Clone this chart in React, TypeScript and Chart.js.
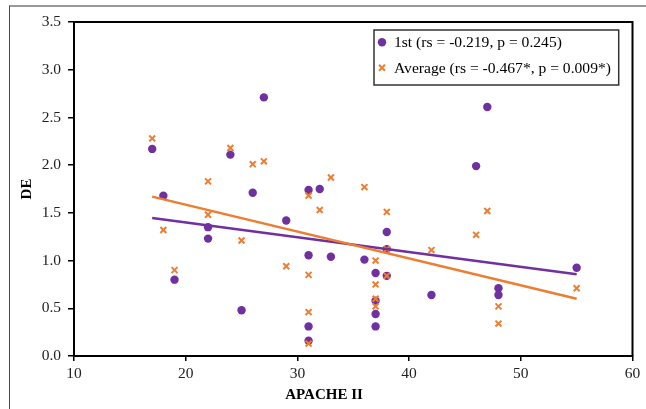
import React, { useEffect, useRef } from 'react';
import { Chart, registerables } from 'chart.js';
Chart.register(...registerables);

const apache = [17, 18, 19, 22, 22, 24, 25, 26, 27, 29, 31, 31, 31, 31, 32, 33, 36, 37, 37, 37, 37, 38, 38, 38, 42, 46, 47, 48, 48, 55];
const firstDE = [2.17, 1.68, 0.8, 1.35, 1.23, 2.11, 0.48, 1.71, 2.71, 1.42, 1.74, 1.055, 0.31, 0.16, 1.75, 1.04, 1.01, 0.87, 0.58, 0.44, 0.31, 1.3, 1.12, 0.84, 0.64, 1.99, 2.61, 0.71, 0.64, 0.925];
const averageDE = [2.28, 1.32, 0.9, 1.83, 1.48, 2.18, 1.21, 2.01, 2.04, 0.94, 1.68, 0.85, 0.46, 0.13, 1.53, 1.87, 1.77, 1.0, 0.75, 0.6, 0.52, 1.51, 1.12, 0.84, 1.11, 1.27, 1.52, 0.52, 0.34, 0.71];
const trendX = [17, 55];
const firstTrend = [1.446, 0.856];
const averageTrend = [1.67, 0.6];
const legendLabels = ['1st (rs = -0.219, p = 0.245)', 'Average (rs = -0.467*, p = 0.009*)'];
const xTitle = 'APACHE II';
const yTitle = 'DE';

const PURPLE = '#7030A0';
const ORANGE = '#ED7D31';
const FONT = '"Liberation Serif", "Times New Roman", serif';

export default function App() {
  const ref = useRef<HTMLCanvasElement | null>(null);
  useEffect(() => {
    document.body.style.margin = '0';
    const canvas = ref.current;
    if (!canvas) return;
    const framePlugin = {
      id: 'framePlugin',
      afterDraw(chart: any) {
        const { ctx, chartArea } = chart;
        ctx.save();
        ctx.strokeStyle = '#000';
        ctx.lineWidth = 2;
        ctx.beginPath();
        ctx.moveTo(chartArea.left, chartArea.top);
        ctx.lineTo(chartArea.right, chartArea.top);
        ctx.lineTo(chartArea.right, chartArea.bottom);
        ctx.stroke();
        // titles
        ctx.fillStyle = '#000';
        ctx.font = 'bold 15px ' + FONT;
        ctx.textAlign = 'center';
        ctx.textBaseline = 'middle';
        ctx.fillText(xTitle, 324, 395);
        ctx.save();
        ctx.translate(27, (chartArea.top + chartArea.bottom) / 2);
        ctx.rotate(-Math.PI / 2);
        ctx.fillText(yTitle, 0, 0);
        ctx.restore();
        // legend
        const lx = 374, ly = 30, lw = 244.7, lh = 55;
        ctx.fillStyle = '#fff';
        ctx.fillRect(lx, ly, lw, lh);
        ctx.strokeStyle = '#333';
        ctx.lineWidth = 1.5;
        ctx.strokeRect(lx, ly, lw, lh);
        const rows = [42.3, 67.7];
        ctx.font = '15.6px ' + FONT;
        ctx.textAlign = 'left';
        ctx.textBaseline = 'middle';
        // marker 1
        ctx.fillStyle = PURPLE;
        ctx.beginPath();
        ctx.arc(382, rows[0], 4.2, 0, Math.PI * 2);
        ctx.fill();
        // marker 2
        ctx.strokeStyle = ORANGE;
        ctx.lineWidth = 2;
        ctx.beginPath();
        const d = 3;
        ctx.moveTo(382 - d, rows[1] - d);
        ctx.lineTo(382 + d, rows[1] + d);
        ctx.moveTo(382 + d, rows[1] - d);
        ctx.lineTo(382 - d, rows[1] + d);
        ctx.stroke();
        ctx.fillStyle = '#000';
        ctx.fillText(legendLabels[0], 394, rows[0] + 1);
        ctx.fillText(legendLabels[1], 394, rows[1] + 1);
        ctx.restore();
      },
    };
    const chart = new Chart(canvas, {
      type: 'scatter',
      data: {
        datasets: [
          {
            label: legendLabels[0],
            data: apache.map((x, i) => ({ x, y: firstDE[i] })),
            pointStyle: 'circle',
            pointRadius: 4.2,
            backgroundColor: PURPLE,
            borderColor: PURPLE,
            borderWidth: 0,
            order: 4,
          },
          {
            label: legendLabels[1],
            data: apache.map((x, i) => ({ x, y: averageDE[i] })),
            pointStyle: 'crossRot',
            pointRadius: 4.2,
            backgroundColor: ORANGE,
            borderColor: ORANGE,
            borderWidth: 2,
            order: 3,
          },
          {
            label: 'trend1',
            data: trendX.map((x, i) => ({ x, y: firstTrend[i] })),
            showLine: true,
            pointRadius: 0,
            borderColor: PURPLE,
            borderWidth: 2.5,
            order: 2,
          },
          {
            label: 'trend2',
            data: trendX.map((x, i) => ({ x, y: averageTrend[i] })),
            showLine: true,
            pointRadius: 0,
            borderColor: ORANGE,
            borderWidth: 2.5,
            order: 1,
          },
        ],
      },
      options: {
        animation: false,
        responsive: false,
        maintainAspectRatio: false,
        events: [],
        layout: { padding: { top: 22, right: 13.5, left: 0, bottom: 0 } },
        plugins: { legend: { display: false }, tooltip: { enabled: false } },
        scales: {
          x: {
            type: 'linear',
            min: 10,
            max: 60,
            ticks: { stepSize: 10, color: '#222', font: { family: FONT, size: 15.5 }, padding: 4 },
            grid: { drawOnChartArea: false, drawTicks: true, tickLength: 5, color: '#000', lineWidth: 1.5 },
            border: { display: true, color: '#000', width: 2 },
            afterFit(scale: any) { scale.height = 53; },
          },
          y: {
            type: 'linear',
            min: 0,
            max: 3.5,
            ticks: {
              stepSize: 0.5,
              color: '#222',
              font: { family: FONT, size: 15.5 },
              padding: 7,
              callback: (v: any) => Number(v).toFixed(1),
            },
            grid: { drawOnChartArea: false, drawTicks: true, tickLength: 6, color: '#000', lineWidth: 1.5 },
            border: { display: true, color: '#000', width: 2 },
            afterFit(scale: any) { scale.width = 74; },
          },
        },
      },
      plugins: [framePlugin],
    } as any);
    return () => chart.destroy();
  }, []);
  return (
    <div style={{ position: 'fixed', left: 0, top: 0, width: 646, height: 409, overflow: 'hidden', background: '#fff' }}>
      <div style={{ position: 'absolute', left: 9, top: 5, width: 700, height: 500, borderTop: '2px solid #999', borderLeft: '1px solid #444' }} />
      <canvas ref={ref} width={646} height={409} style={{ position: 'absolute', left: 0, top: 0, width: 646, height: 409 }} />
    </div>
  );
}
